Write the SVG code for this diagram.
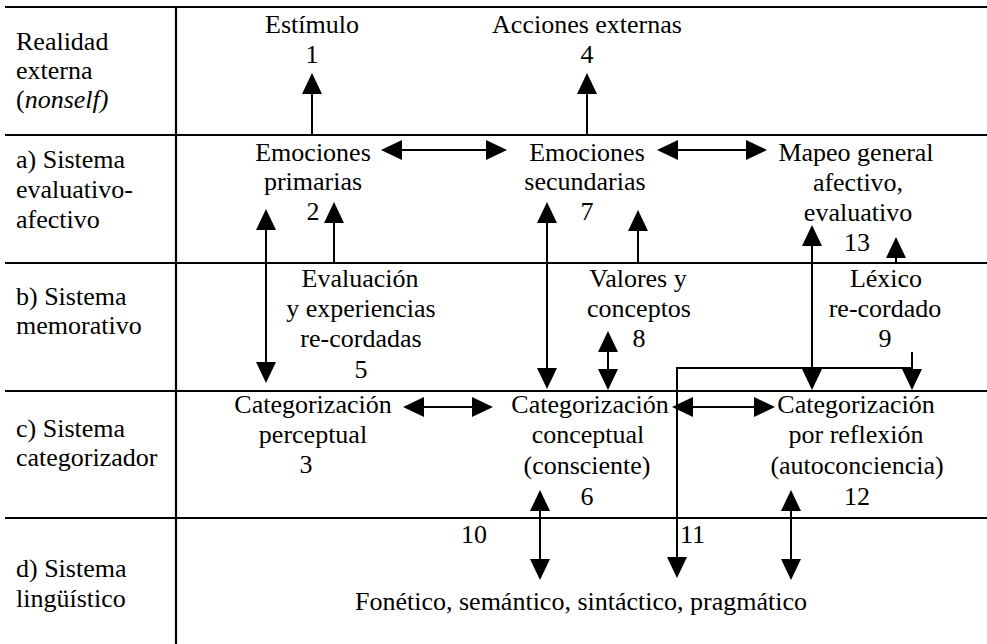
<svg xmlns="http://www.w3.org/2000/svg" width="987" height="644" viewBox="0 0 987 644" font-family="'Liberation Serif', Tinos, 'Times New Roman', 'DejaVu Serif', serif">
<style>
text{font-family:'Liberation Serif',Tinos,'Times New Roman','DejaVu Serif',serif;font-size:26px;fill:#000}
.c{text-anchor:middle}
.grid{stroke:#000;stroke-width:2.2;fill:none}
.cn line,.cn path{stroke:#000;stroke-width:2;fill:none}
.s{marker-end:url(#ah)}
.d{marker-start:url(#ah);marker-end:url(#ah)}
</style>
<defs>
<marker id="ah" markerUnits="userSpaceOnUse" markerWidth="21" markerHeight="20" refX="0" refY="10" orient="auto-start-reverse" viewBox="0 0 21 20">
<path d="M0,0 L21,10 L0,20 z" fill="#000"/>
</marker>
</defs>
<rect width="987" height="644" fill="#fff"/>
<g id="grid" class="grid">
<line x1="5" y1="7" x2="987" y2="7"/>
<line x1="5" y1="135" x2="987" y2="135"/>
<line x1="5" y1="263" x2="987" y2="263"/>
<line x1="5" y1="391" x2="987" y2="391"/>
<line x1="5" y1="518" x2="987" y2="518"/>
<line x1="176" y1="7" x2="176" y2="644"/>
</g>
<g id="labels">
<text x="16" y="50">Realidad</text>
<text x="16" y="79">externa</text>
<text x="16" y="108">(<tspan font-style="italic">nonself)</tspan></text>
<text x="16" y="168">a) Sistema</text>
<text x="16" y="198">evaluativo-</text>
<text x="16" y="228">afectivo</text>
<text x="16" y="305">b) Sistema</text>
<text x="16" y="334">memorativo</text>
<text x="16" y="437">c) Sistema</text>
<text x="16" y="466">categorizador</text>
<text x="16" y="577">d) Sistema</text>
<text x="16" y="607">lingüístico</text>
</g>
<g id="n1"><text class="c" x="312" y="33">Estímulo</text><text class="c" x="312" y="63">1</text></g>
<g id="n4"><text class="c" x="587" y="33">Acciones externas</text><text class="c" x="587" y="63">4</text></g>
<g id="n2"><text class="c" x="313" y="161">Emociones</text><text class="c" x="313" y="190">primarias</text><text class="c" x="313" y="220">2</text></g>
<g id="n7"><text class="c" x="587" y="161">Emociones</text><text class="c" x="585" y="190">secundarias</text><text class="c" x="587" y="220">7</text></g>
<g id="n13"><text class="c" x="856" y="161">Mapeo general</text><text class="c" x="858" y="191">afectivo,</text><text class="c" x="858" y="221">evaluativo</text><text class="c" x="857" y="251">13</text></g>
<g id="n5"><text class="c" x="360" y="287">Evaluación</text><text class="c" x="361" y="317">y experiencias</text><text class="c" x="361" y="347">re-cordadas</text><text class="c" x="361" y="378">5</text></g>
<g id="n8"><text class="c" x="638" y="287">Valores y</text><text class="c" x="639" y="317">conceptos</text><text class="c" x="639" y="347">8</text></g>
<g id="n9"><text class="c" x="886" y="287">Léxico</text><text class="c" x="885" y="317">re-cordado</text><text class="c" x="885" y="347">9</text></g>
<g id="n3"><text class="c" x="313" y="413">Categorización</text><text class="c" x="313" y="443">perceptual</text><text class="c" x="306" y="473">3</text></g>
<g id="n6"><text class="c" x="590" y="413">Categorización</text><text class="c" x="588" y="443">conceptual</text><text class="c" x="587" y="474">(consciente)</text><text class="c" x="587" y="505">6</text></g>
<g id="n12"><text class="c" x="856" y="413">Categorización</text><text class="c" x="856" y="443">por reflexión</text><text class="c" x="857" y="474">(autoconciencia)</text><text class="c" x="857" y="505">12</text></g>
<g id="nling"><text class="c" x="581" y="610">Fonético, semántico, sintáctico, pragmático</text></g>
<g id="edge-labels"><text class="c" x="474" y="543">10</text><text x="680" y="543">11</text></g>
<g id="connectors" class="cn">
<line class="s" x1="312" y1="135" x2="312" y2="94"/>
<line class="s" x1="587" y1="135" x2="587" y2="94"/>
<line class="d" x1="402" y1="150" x2="486" y2="150"/>
<line class="d" x1="678" y1="150" x2="746" y2="150"/>
<line class="d" x1="266" y1="230" x2="266" y2="362"/>
<line class="s" x1="334" y1="263" x2="334" y2="223"/>
<line class="d" x1="547" y1="223" x2="547" y2="368"/>
<line class="s" x1="638" y1="263" x2="638" y2="231"/>
<line class="d" x1="608" y1="352" x2="608" y2="369"/>
<line class="d" x1="812" y1="246" x2="812" y2="369"/>
<line class="s" x1="896" y1="263" x2="896" y2="258"/>
<path class="s" d="M912,352 V369"/>
<path class="s" d="M912,368 H677 V557"/>
<line class="d" x1="424" y1="407" x2="472" y2="407"/>
<line class="d" x1="693" y1="407" x2="754" y2="407"/>
<line class="d" x1="540" y1="511" x2="540" y2="559"/>
<line class="d" x1="791" y1="511" x2="791" y2="559"/>
</g>
</svg>
